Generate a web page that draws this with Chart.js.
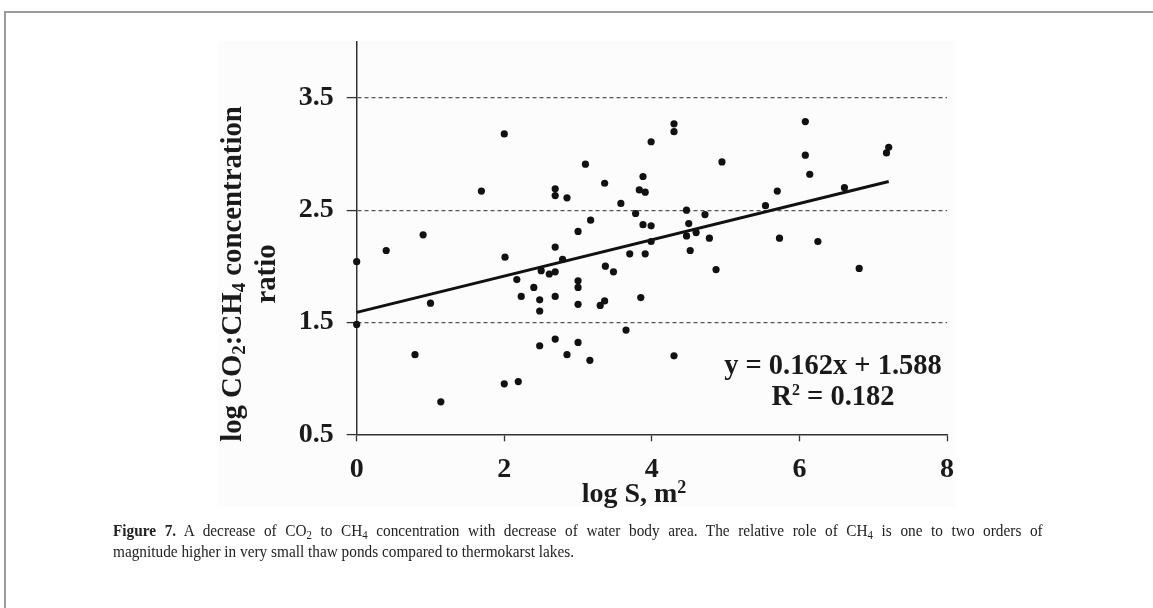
<!DOCTYPE html>
<html>
<head>
<meta charset="utf-8">
<script src="https://cdn.jsdelivr.net/npm/chart.js@4.4.1/dist/chart.umd.min.js"></script>
<style>
  html, body { margin: 0; padding: 0; background: #ffffff; }
  body { width: 1153px; height: 608px; position: relative; overflow: hidden; }
  #frame { position: absolute; left: 4px; top: 11px; width: 1200px; height: 700px;
           border-top: 2px solid #9c9c9c; border-left: 2px solid #9c9c9c; }
  #plotbg { position: absolute; left: 217px; top: 41px; width: 739px; height: 466px; background: #fcfcfc; }
  #wrap { position: absolute; left: 0; top: 0; width: 1153px; height: 608px; }
  .serifb { font-family: "Liberation Serif", "Times New Roman", serif; font-weight: bold; color: #1a1a1a; }
  #ytitle { position: absolute; width: 440px; height: 68px; left: 28px; top: 240px;
            transform: rotate(-90deg); text-align: center; font-size: 28.8px; line-height: 34px; white-space: nowrap; }
  #ytitle sub { font-size: 19px; vertical-align: -4px; line-height: 0; }
  #xtitle { position: absolute; left: 534px; width: 200px; top: 477px; text-align: center; font-size: 28px; line-height: 32px; }
  #xtitle sup { font-size: 18px; vertical-align: 9px; line-height: 0; }
  #eq { position: absolute; left: 683px; width: 300px; top: 349px; text-align: center; font-size: 28.5px; line-height: 31px; }
  #eq sup { font-size: 16px; vertical-align: 10px; line-height: 0; }
  #caption { position: absolute; left: 113px; top: 520px; width: 1033px; font-family: "Liberation Serif", "Times New Roman", serif;
             font-size: 17px; line-height: 21px; color: #222; transform: scaleX(0.9); transform-origin: 0 0; }
  #caption .l1 { text-align: justify; text-align-last: justify; white-space: normal; }
  #caption .l2 { white-space: nowrap; }
  #caption sub { font-size: 12px; vertical-align: -3px; line-height: 0; }
</style>
</head>
<body>
<div id="frame"></div>
<div id="plotbg"></div>
<div id="wrap"><canvas id="c" width="1153" height="608"></canvas></div>
<div id="ytitle" class="serifb">log CO<sub>2</sub>:CH<sub>4</sub> concentration<br>ratio</div>
<div id="xtitle" class="serifb">log S, m<sup>2</sup></div>
<div id="eq" class="serifb">y = 0.162x + 1.588<br>R<sup>2</sup> = 0.182</div>
<div id="caption"><div class="l1"><b>Figure 7.</b> A decrease of CO<sub>2</sub> to CH<sub>4</sub> concentration with decrease of water body area. The relative role of CH<sub>4</sub> is one to two orders of</div><div class="l2">magnitude higher in very small thaw ponds compared to thermokarst lakes.</div></div>
<script>
// Observations: log S (m2) and log CO2:CH4 ratio
const logArea = [
  0, 0, 0.40, 0.79, 0.90, 1.00, 1.14, 1.69, 2.00, 2.01,
  2.00, 2.19, 2.17, 2.23, 2.40, 2.50, 2.48, 2.48, 2.48, 2.61,
  2.69, 2.69, 2.69, 2.69, 2.69, 2.69, 2.79, 2.85, 2.85, 3.00,
  3.00, 3.00, 3.00, 3.00, 3.10, 3.17, 3.16, 3.30, 3.36, 3.37,
  3.36, 3.48, 3.58, 3.65, 3.70, 3.78, 3.85, 3.88, 3.83, 3.91,
  3.88, 3.99, 3.99, 3.91, 3.99, 4.30, 4.30, 4.30, 4.47, 4.50,
  4.47, 4.60, 4.52, 4.72, 4.78, 4.87, 4.95, 5.54, 5.70, 5.73,
  6.08, 6.08, 6.14, 6.25, 6.61, 6.81, 7.18, 7.21
];
const logRatio = [
  2.04, 1.48, 2.14, 1.21, 2.28, 1.67, 0.79, 2.67, 3.18, 2.08,
  0.95, 0.97, 1.88, 1.73, 1.81, 1.96, 1.70, 1.60, 1.29, 1.93,
  1.95, 1.73, 1.35, 2.17, 2.69, 2.63, 2.06, 2.61, 1.21, 2.31,
  1.87, 1.81, 1.66, 1.32, 2.91, 2.41, 1.16, 1.65, 1.69, 2.00,
  2.74, 1.95, 2.56, 1.43, 2.11, 2.47, 1.72, 2.80, 2.68, 2.66,
  2.37, 2.36, 2.22, 2.11, 3.11, 3.27, 3.20, 1.20, 2.50, 2.38,
  2.27, 2.30, 2.14, 2.46, 2.25, 1.97, 2.93, 2.54, 2.67, 2.25,
  3.29, 2.99, 2.82, 2.22, 2.70, 1.98, 3.01, 3.06
];
// Linear trendline endpoints (y = 0.162x + 1.588)
const trendX = [0, 7.21];
const trendY = [1.588, 2.756];
// Axis ticks
const xTickValues = [0, 2, 4, 6, 8];
const yTickValues = [0.5, 1.5, 2.5, 3.5];

const scatterData = logArea.map((x, i) => ({ x: x, y: logRatio[i] }));
const trendData = trendX.map((x, i) => ({ x: x, y: trendY[i] }));

const tickFont = { family: '"Liberation Serif", "Times New Roman", serif', size: 28, weight: 'bold' };
const ink = '#1a1a1a';

new Chart(document.getElementById('c'), {
  type: 'scatter',
  data: {
    datasets: [
      { data: scatterData, pointRadius: 3.6, pointHoverRadius: 3.6, pointBackgroundColor: '#111', pointBorderWidth: 0, clip: false, order: 2 },
      { data: trendData, showLine: true, borderColor: '#111', borderWidth: 3, pointRadius: 0, pointHoverRadius: 0, clip: false, order: 1 }
    ]
  },
  options: {
    responsive: false,
    animation: false,
    devicePixelRatio: 1,
    events: [],
    layout: { padding: { left: 0, top: 42, right: 206, bottom: 0 } },
    plugins: { legend: { display: false }, tooltip: { enabled: false } },
    scales: {
      x: {
        type: 'linear', min: 0, max: 8,
        afterBuildTicks: (s) => { s.ticks = xTickValues.map(v => ({ value: v })); },
        afterFit: (s) => { s.height = 173.7; },
        grid: { drawOnChartArea: false, drawTicks: true, tickLength: 7, tickColor: '#333', tickWidth: 1.3 },
        border: { display: true, color: '#333', width: 1.5 },
        ticks: { font: tickFont, color: ink, padding: 12, maxRotation: 0 }
      },
      y: {
        type: 'linear', min: 0.5, max: 4.0,
        afterBuildTicks: (s) => { s.ticks = yTickValues.map(v => ({ value: v })); },
        afterFit: (s) => { s.width = 356.7; },
        grid: {
          drawOnChartArea: true, drawTicks: true, tickLength: 10,
          color: (c) => (c.tick && c.tick.value === 0.5) ? 'rgba(0,0,0,0)' : '#555',
          lineWidth: 1.2, tickColor: '#333', tickWidth: 1.3
        },
        border: { display: true, color: '#333', width: 1.5, dash: [4, 3] },
        ticks: { font: tickFont, color: ink, padding: 13, callback: (v) => Number(v).toFixed(1) }
      }
    }
  }
});
</script>
</body>
</html>
